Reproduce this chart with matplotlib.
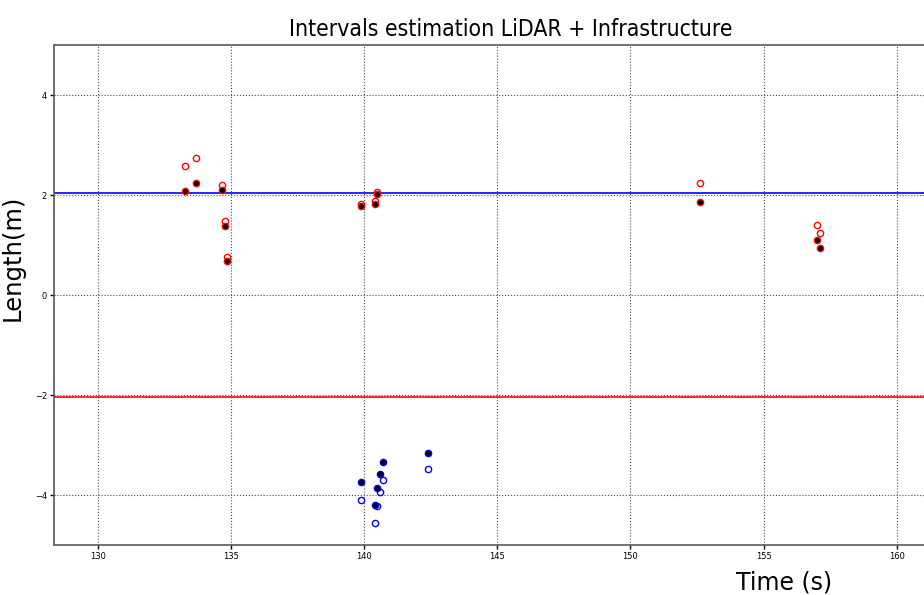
import numpy as np
import matplotlib
matplotlib.use('Agg')
import matplotlib.pyplot as plt

# upper intervals (red)
t_up = [133.27, 133.68, 134.66, 134.77, 134.84, 139.89, 140.39, 140.50, 152.62, 157.01, 157.12]
up_bound = [2.58, 2.74, 2.20, 1.48, 0.76, 1.83, 1.89, 2.07, 2.24, 1.41, 1.25]
up_est = [2.08, 2.24, 2.10, 1.38, 0.68, 1.79, 1.83, 2.02, 1.87, 1.10, 0.95]

# lower intervals (blue)
t_low = [139.89, 140.39, 140.49, 140.59, 140.69, 142.39]
low_bound = [-4.10, -4.55, -4.21, -3.93, -3.69, -3.47]
low_est = [-3.74, -4.20, -3.85, -3.57, -3.33, -3.15]

up_limit, low_limit = 2.04, -2.04

fig = plt.figure(figsize=(9.24, 5.95), dpi=100)
ax = fig.add_axes([0.0584, 0.084, 0.9697, 0.840])

ax.axhline(up_limit, color='b', lw=1.2, zorder=2)
ax.axhline(low_limit, color='r', lw=1.2, zorder=2)

ax.plot(t_up, up_bound, 'o', ms=4.5, mfc='none', mec='r', mew=1, zorder=3)
ax.plot(t_up, up_est, 'o', ms=4.5, mfc='k', mec='r', mew=1, zorder=4)
ax.plot(t_low, low_bound, 'o', ms=4.5, mfc='none', mec='b', mew=1, zorder=3)
ax.plot(t_low, low_est, 'o', ms=4.5, mfc='k', mec='b', mew=1, zorder=4)

ax.set_xlim(128.35, 162)
ax.set_ylim(-5, 5)
ax.set_xticks([130, 135, 140, 145, 150, 155, 160])
ax.set_yticks([-4, -2, 0, 2, 4])
ax.tick_params(labelsize=6, direction='out', length=3, width=1, pad=2)
ax.grid(True, color='0.3', ls=':', lw=0.8)
for s in ax.spines.values():
    s.set_color('0.35')
    s.set_linewidth(1.2)

ax.set_ylabel('Length(m)', fontsize=17.5)
ax.yaxis.set_label_coords(-0.033, 0.574)
ax.set_xlabel('Time (s)', fontsize=17)
ax.xaxis.set_label_coords(0.815, -0.05)

fig.text(0.553, 0.94, 'Intervals estimation LiDAR + Infrastructure',
         ha='center', va='baseline', fontsize=16.5,
         family=['DejaVu Sans'], fontstretch='condensed')

fig.savefig('out.png', dpi=100)
